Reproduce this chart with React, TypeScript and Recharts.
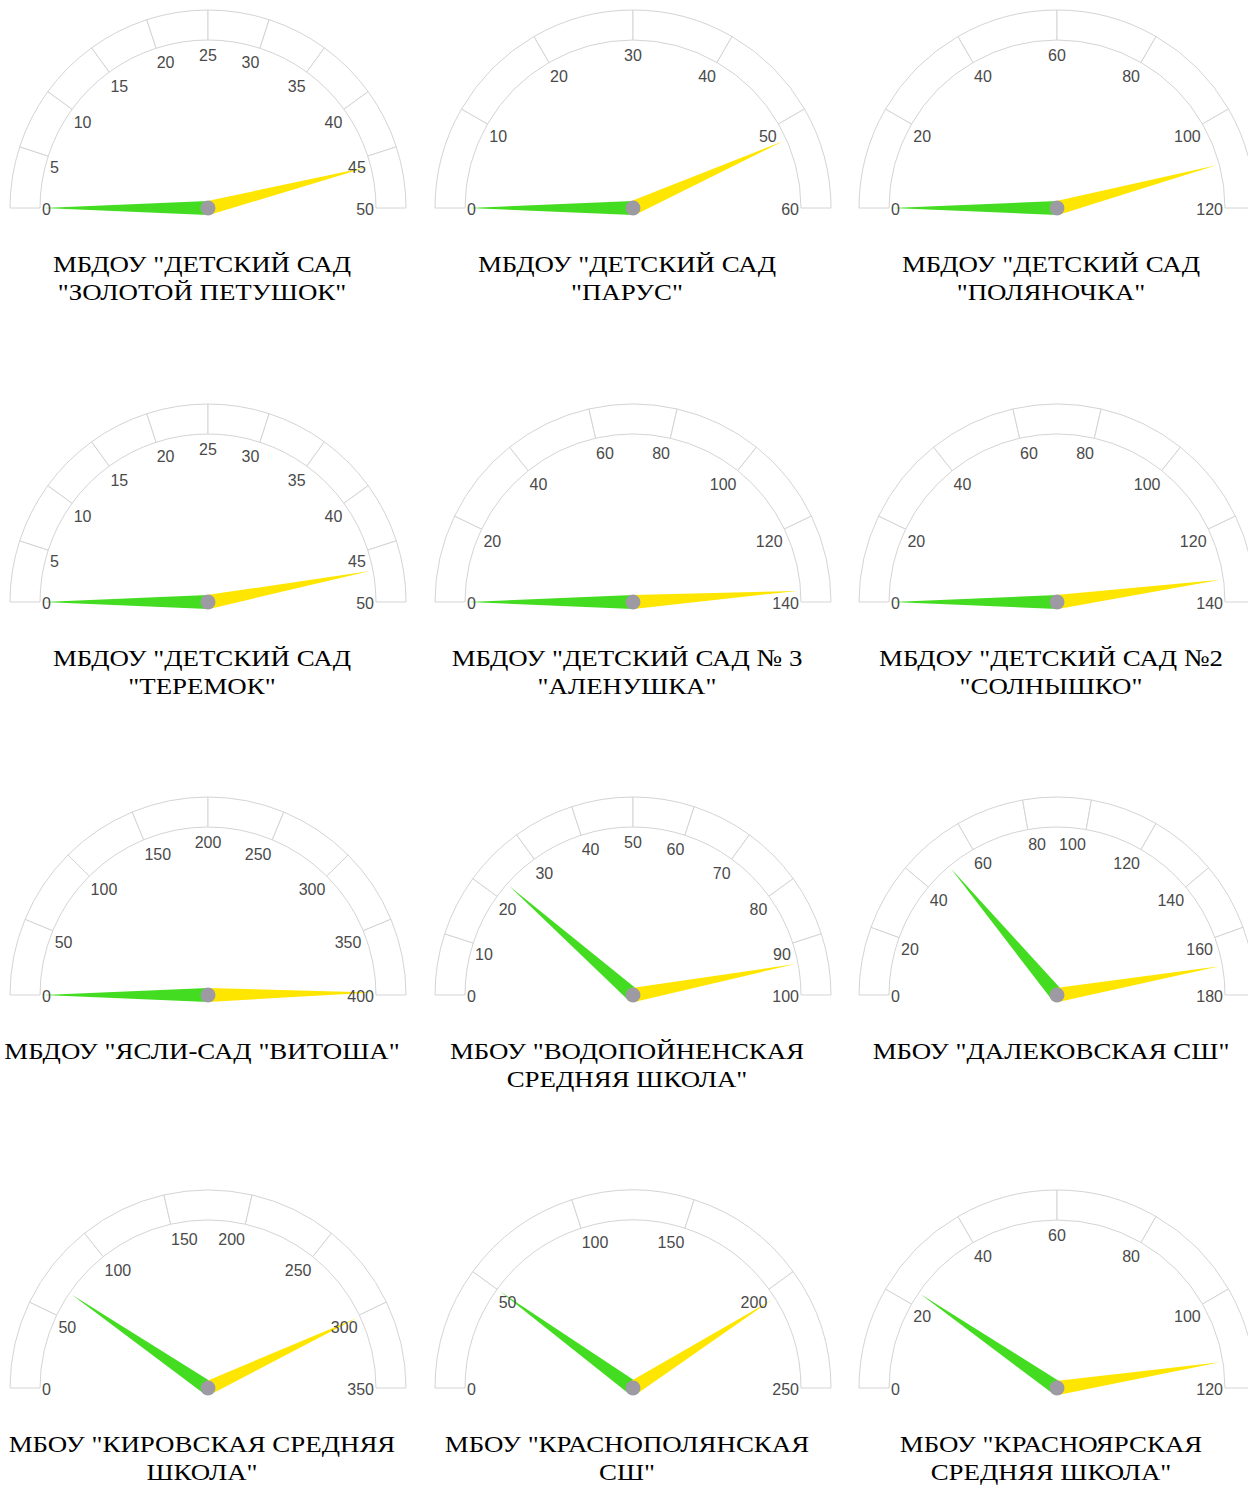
import React from "react";
import { PieChart, Pie } from "recharts";

const TITLES: string[][] = [
  ['МБДОУ "ДЕТСКИЙ САД', '"ЗОЛОТОЙ ПЕТУШОК"'],
  ['МБДОУ "ДЕТСКИЙ САД', '"ПАРУС"'],
  ['МБДОУ "ДЕТСКИЙ САД', '"ПОЛЯНОЧКА"'],
  ['МБДОУ "ДЕТСКИЙ САД', '"ТЕРЕМОК"'],
  ['МБДОУ "ДЕТСКИЙ САД № 3', '"АЛЕНУШКА"'],
  ['МБДОУ "ДЕТСКИЙ САД №2', '"СОЛНЫШКО"'],
  ['МБДОУ "ЯСЛИ-САД "ВИТОША"'],
  ['МБОУ "ВОДОПОЙНЕНСКАЯ', 'СРЕДНЯЯ ШКОЛА"'],
  ['МБОУ "ДАЛЕКОВСКАЯ СШ"'],
  ['МБОУ "КИРОВСКАЯ СРЕДНЯЯ', 'ШКОЛА"'],
  ['МБОУ "КРАСНОПОЛЯНСКАЯ', 'СШ"'],
  ['МБОУ "КРАСНОЯРСКАЯ', 'СРЕДНЯЯ ШКОЛА"'],
];

const MAXES = [50, 60, 120, 50, 140, 140, 400, 100, 180, 350, 250, 120];
const STEPS = [5, 10, 20, 5, 20, 20, 50, 10, 20, 50, 50, 20];
const GREEN_VALUES = [0, 0, 0, 0, 0, 0, 0, 23, 50, 67, 50, 23];
const YELLOW_VALUES = [46, 52, 110, 47, 137, 134, 398, 94, 170, 301, 205, 114];

const COL_X = [208, 632.5, 1057];
const ROW_Y = [208, 601.5, 995, 1388];

const GREEN = "#43dc20";
const YELLOW = "#ffe600";
const DOT = "#9d9aa3";
const BAND_STROKE = "#d4d4d4";
const LABEL_COLOR = "#4a4a4a";

const CW = 424;
const CH = 232;
const CX = 212;
const CY = 208;
const INNER = 168;
const OUTER = 198;
const NEEDLE_LEN = 165;
const NEEDLE_HALF = 7;

const RAD = Math.PI / 180;

function needlePath(cx: number, cy: number, angle: number) {
  const c = Math.cos(angle * RAD);
  const s = Math.sin(angle * RAD);
  const tx = cx + NEEDLE_LEN * c;
  const ty = cy - NEEDLE_LEN * s;
  const b1x = cx + NEEDLE_HALF * s;
  const b1y = cy + NEEDLE_HALF * c;
  const b2x = cx - NEEDLE_HALF * s;
  const b2y = cy - NEEDLE_HALF * c;
  return `M${b1x},${b1y} L${tx},${ty} L${b2x},${b2y} Z`;
}

function makeNeedleLabel(color: string, withDot: boolean) {
  return (props: any) => {
    if (props.index !== 1) return null;
    const { cx, cy, startAngle } = props;
    return (
      <g>
        <path d={needlePath(cx, cy, startAngle)} fill={color} stroke="none" />
        {withDot && <circle cx={cx} cy={cy} r={7.5} fill={DOT} />}
      </g>
    );
  };
}

function tickText(cx: number, cy: number, angle: number, value: number, key: string) {
  const c = Math.cos(angle * RAD);
  const s = Math.sin(angle * RAD);
  const x = cx + 166 * c;
  const isEnd = Math.abs(s) < 0.01;
  const y = isEnd ? cy + 1 : cy - 163 * s + 10;
  const anchor = angle > 90.5 ? "start" : angle < 89.5 ? "end" : "middle";
  return (
    <text
      key={key}
      x={x}
      y={y}
      textAnchor={anchor}
      dominantBaseline="central"
      fill={LABEL_COLOR}
      fontSize={16}
      fontFamily="'Liberation Sans', Arial, Helvetica, sans-serif"
    >
      {value}
    </text>
  );
}

function makeTickLabel(step: number, count: number) {
  return (props: any) => {
    const { cx, cy, startAngle, endAngle, index } = props;
    return (
      <g>
        {tickText(cx, cy, startAngle, index * step, "s")}
        {index === count - 1 && tickText(cx, cy, endAngle, count * step, "e")}
      </g>
    );
  };
}

function Gauge({ i }: { i: number }) {
  const max = MAXES[i];
  const step = STEPS[i];
  const count = Math.round(max / step);
  const segments = Array.from({ length: count }, (_, k) => ({ name: `s${k}`, value: step }));
  const g = GREEN_VALUES[i];
  const y = YELLOW_VALUES[i];
  const greenData = [{ name: "a", value: g }, { name: "b", value: max - g }];
  const yellowData = [{ name: "a", value: y }, { name: "b", value: max - y }];
  const cx = COL_X[i % 3];
  const cy = ROW_Y[Math.floor(i / 3)];
  return (
    <>
      <div style={{ position: "absolute", left: cx - CX, top: cy - CY, width: CW, height: CH }}>
        <PieChart width={CW} height={CH} margin={{ top: 0, right: 0, bottom: 0, left: 0 }}>
          <Pie
            data={segments}
            dataKey="value"
            cx={CX}
            cy={CY}
            startAngle={180}
            endAngle={0}
            innerRadius={INNER}
            outerRadius={OUTER}
            fill="#ffffff"
            stroke={BAND_STROKE}
            strokeWidth={1}
            isAnimationActive={false}
            label={false}
            labelLine={false}
          />
          <Pie
            data={greenData}
            dataKey="value"
            cx={CX}
            cy={CY}
            startAngle={180}
            endAngle={0}
            innerRadius={0}
            outerRadius={1}
            fill="none"
            stroke="none"
            isAnimationActive={false}
            label={makeNeedleLabel(GREEN, false)}
            labelLine={false}
          />
          <Pie
            data={yellowData}
            dataKey="value"
            cx={CX}
            cy={CY}
            startAngle={180}
            endAngle={0}
            innerRadius={0}
            outerRadius={1}
            fill="none"
            stroke="none"
            isAnimationActive={false}
            label={makeNeedleLabel(YELLOW, true)}
            labelLine={false}
          />
          <Pie
            data={segments}
            dataKey="value"
            cx={CX}
            cy={CY}
            startAngle={180}
            endAngle={0}
            innerRadius={0}
            outerRadius={1}
            fill="none"
            stroke="none"
            isAnimationActive={false}
            label={makeTickLabel(step, count)}
            labelLine={false}
          />
        </PieChart>
      </div>
      <div
        style={{
          position: "absolute",
          left: cx - 6 - 200,
          top: cy + 44,
          width: 400,
          textAlign: "center",
          fontFamily: "'Liberation Serif', 'Times New Roman', serif",
          fontSize: 24,
          lineHeight: "24px",
          color: "#000",
          whiteSpace: "nowrap",
          transform: "scaleX(1.12)",
          transformOrigin: "50% 50%",
        }}
      >
        {TITLES[i].map((line, k) => (
          <div key={k} style={{ marginTop: k === 0 ? 0 : 4 }}>
            {line}
          </div>
        ))}
      </div>
    </>
  );
}

export default function App() {
  return (
    <div
      style={{
        position: "absolute",
        left: 0,
        top: 0,
        width: 1248,
        height: 1486,
        overflow: "hidden",
        background: "#fff",
      }}
    >
      {MAXES.map((_, i) => (
        <Gauge key={i} i={i} />
      ))}
    </div>
  );
}
